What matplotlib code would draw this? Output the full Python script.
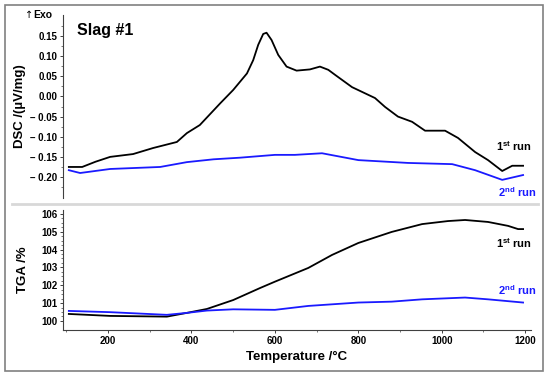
import matplotlib.pyplot as plt
from matplotlib.patches import Rectangle
from matplotlib.lines import Line2D

plt.rcParams['font.family'] = ['Liberation Sans', 'DejaVu Sans']
plt.rcParams['font.weight'] = 'bold'
plt.rcParams['mathtext.fontset'] = 'custom'
plt.rcParams['mathtext.rm'] = 'Liberation Sans:bold'
plt.rcParams['mathtext.bf'] = 'Liberation Sans:bold'

# DSC, 1st and 2nd run
dsc1_t = [106, 138, 170, 205, 260, 308, 365, 389, 420, 469, 500, 533, 548, 560,
          572, 580, 592, 608, 628, 652, 684, 708, 728, 745, 785, 840, 864, 895,
          929, 960, 1008, 1039, 1080, 1111, 1145, 1169, 1195]
dsc1 = [-0.175, -0.175, -0.162, -0.150, -0.143, -0.128, -0.113, -0.091, -0.071,
        -0.017, 0.016, 0.057, 0.090, 0.128, 0.155, 0.158, 0.140, 0.103, 0.074,
        0.064, 0.067, 0.074, 0.066, 0.053, 0.023, -0.004, -0.026, -0.050,
        -0.063, -0.085, -0.085, -0.103, -0.138, -0.158, -0.185, -0.172, -0.172]
dsc2_t = [106, 133, 205, 325, 389, 453, 516, 600, 648, 713, 800, 919, 1025,
          1080, 1145, 1195]
dsc2 = [-0.183, -0.190, -0.180, -0.175, -0.163, -0.156, -0.152, -0.145, -0.145,
        -0.141, -0.158, -0.165, -0.168, -0.183, -0.207, -0.195]

# TGA, 1st and 2nd run
tga1_t = [106, 205, 341, 389, 437, 500, 564, 600, 680, 737, 800, 880, 953,
          1015, 1056, 1111, 1159, 1183, 1195]
tga1 = [100.39, 100.28, 100.24, 100.45, 100.67, 101.17, 101.84, 102.20, 102.97,
        103.70, 104.37, 104.99, 105.43, 105.60, 105.66, 105.55, 105.33, 105.15,
        105.15]
tga2_t = [106, 205, 341, 389, 437, 500, 600, 680, 800, 880, 953, 1056, 1111, 1195]
tga2 = [100.56, 100.49, 100.34, 100.45, 100.58, 100.65, 100.62, 100.84, 101.03,
        101.08, 101.21, 101.31, 101.21, 101.03]

dsc_ticks = [0.15, 0.10, 0.05, 0.00, -0.05, -0.10, -0.15, -0.20]
dsc_labels = ['0.15', '0.10', '0.05', '0.00', '\u2013 0.05', '\u2013 0.10',
              '\u2013 0.15', '\u2013 0.20']
tga_ticks = [100, 101, 102, 103, 104, 105, 106]
t_ticks = [200, 400, 600, 800, 1000, 1200]

W, H = 550, 378
fig = plt.figure(figsize=(5.5, 3.78), dpi=100)
fig.patches.append(Rectangle((5 / W, 1 - 371 / H), 538 / W, 366 / H,
                             transform=fig.transFigure, fill=False,
                             edgecolor='#808080', lw=1.2))
fig.lines.append(Line2D([12 / W, 538 / W], [1 - 204 / H] * 2,
                        transform=fig.transFigure, color='#d8d8d8', lw=2))

ax1 = fig.add_axes([63 / W, 1 - 198 / H, 468 / W, 183 / H])
ax2 = fig.add_axes([63 / W, 1 - 330 / H, 468 / W, 120 / H])

blk = 'black'
blu = '#1a1aff'
ax1.plot(dsc1_t, dsc1, color=blk, lw=1.3)
ax1.plot(dsc2_t, dsc2, color=blu, lw=1.3)
ax2.plot(tga1_t, tga1, color=blk, lw=1.3)
ax2.plot(tga2_t, tga2, color=blu, lw=1.3)

for ax in (ax1, ax2):
    ax.set_xlim(92, 1214)
    ax.patch.set_visible(False)
    for s in ('top', 'right'):
        ax.spines[s].set_visible(False)
    ax.spines['left'].set_color('#404040')
    ax.spines['bottom'].set_color('#404040')
    ax.tick_params(labelsize=7, length=2, width=0.7, color='#404040', pad=2)
    ax.tick_params(which='minor', length=1.2, width=0.5, color='#404040')

ax1.spines['bottom'].set_visible(False)
ax1.set_ylim(-0.252, 0.202)
ax1.set_xticks([])
ax1.set_yticks(dsc_ticks)
ax1.set_yticklabels(dsc_labels)
ax1.set_yticks([v + 0.025 for v in dsc_ticks] + [-0.225], minor=True)
ax1.set_ylabel('DSC /(\u00b5V/mg)', fontsize=9.5, fontweight='bold', labelpad=3)

ax2.set_ylim(99.49, 106.22)
ax2.set_yticks(tga_ticks)
ax2.set_yticks([v + 0.25 * k for v in tga_ticks[:-1] for k in (1, 2, 3)], minor=True)
ax2.set_xticks(t_ticks)
ax2.set_xticks([100, 300, 500, 700, 900, 1100], minor=True)
ax2.set_ylabel('TGA /%', fontsize=9.5, fontweight='bold', labelpad=9)
ax2.set_xlabel('Temperature /\u00b0C', fontsize=9.5, fontweight='bold', labelpad=4)

fig.text(77 / W, 1 - 30 / H, 'Slag #1', fontsize=11.5, fontweight='bold',
         va='center', ha='left')
fig.text(33 / W, 1 - 15 / H, '\u2191', fontsize=7, fontweight='normal',
         va='center', ha='right', family='DejaVu Sans')
fig.text(33 / W, 1 - 15 / H, 'Exo', fontsize=7.5, fontweight='bold',
         va='center', ha='left')

fig.text(532 / W, 1 - 146 / H, r'1$^{\mathbf{st}}$ run', fontsize=8,
         ha='right', va='center', color=blk)
fig.text(536 / W, 1 - 192 / H, r'2$^{\mathbf{nd}}$ run', fontsize=8,
         ha='right', va='center', color=blu)
fig.text(532 / W, 1 - 243 / H, r'1$^{\mathbf{st}}$ run', fontsize=8,
         ha='right', va='center', color=blk)
fig.text(536 / W, 1 - 290 / H, r'2$^{\mathbf{nd}}$ run', fontsize=8,
         ha='right', va='center', color=blu)

fig.savefig('out.png', dpi=100)
